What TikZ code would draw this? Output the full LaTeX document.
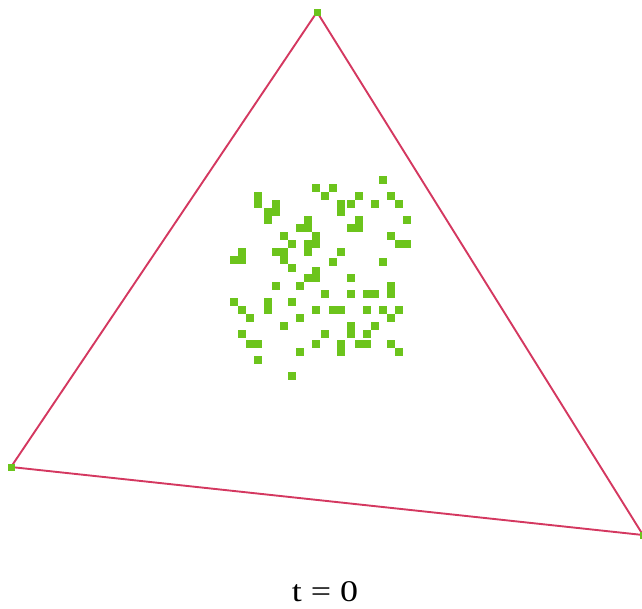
\documentclass[tikz,border=0pt]{standalone}
\usepackage{fontspec}
\setmainfont{Liberation Serif}
\definecolor{edgered}{RGB}{212,56,96}
\definecolor{dotgreen}{RGB}{108,196,28}
\begin{document}
\begin{tikzpicture}[x=1pt,y=-1pt,
  edge/.style={draw=edgered,line width=1.9pt},
  vtx/.style={rectangle,fill=dotgreen,inner sep=0pt,minimum size=7pt},
  dot/.style={fill=dotgreen}]
\useasboundingbox (0,0) rectangle (642,608);
\coordinate (A) at (317,12);
\coordinate (B) at (11,467);
\coordinate (C) at (643,535);
\draw[edge] (A) -- (B) -- (C) -- cycle;
\node[vtx] (vA) at (A) {};
\node[vtx] (vB) at (B) {};
\node[vtx] (vC) at (C) {};
% particles
\foreach \x/\y/\w/\h in {
 312.3/184.3/8/8, 320.5/192.3/8/8, 254.3/192.3/8/16, 272.3/200.3/8/16,
 264.3/207.7/8/16, 304.3/216.3/8/8, 296.3/224.3/16/8, 280.3/232.3/8/8,
 288.3/240.3/8/8, 272.3/248.3/16/8, 280.3/256.3/8/8, 288.3/264.3/8/8,
 312.3/232.3/8/16, 304.3/240.3/8/16, 238.3/248.3/8/8, 230.3/256.3/16/8,
 312.3/266.5/8/8, 304.3/274.3/16/8,
 378.7/176.3/8/8, 328.7/184.3/8/8, 354.7/192.3/8/8, 386.7/192.3/8/8,
 336.7/200.3/8/16, 346.7/200.3/8/8, 370.7/200.3/8/8, 394.7/200.3/8/8,
 354.7/216.3/8/16, 346.7/224.3/8/8, 402.7/216.3/8/8, 386.7/232.3/8/8,
 394.7/240.3/16/8, 336.7/248.3/8/8, 328.7/258/8/8, 378.7/258/8/8,
 346.7/274.3/8/8,
 272.3/282.3/8/8, 296.3/282.3/8/8, 320.5/290.3/8/8, 230.3/298.3/8/8,
 264.3/298.3/8/16, 288.3/298.3/8/8, 238.3/306.3/8/8, 312.3/306.3/8/8,
 246.3/314.3/8/8, 296.3/314.3/8/8, 280.3/322.3/8/8, 320.5/330.3/8/8,
 238.3/330.3/8/8, 246.3/340.3/16/8, 312.3/340.3/8/8, 296.3/348.3/8/8,
 254.3/356.3/8/8, 288.3/372.3/8/8,
 346.7/290.3/8/8, 362.7/290.3/16/8, 386.7/282.3/8/16, 328.7/306.3/16/8,
 362.7/306.3/8/8, 378.7/306.3/8/8, 394.7/306.3/8/8, 386.7/314.3/8/8,
 370.7/322.3/8/8, 346.7/322.3/8/16, 362.7/330.3/8/8, 336.7/340.3/8/16,
 354.7/340.3/16/8, 386.7/340.3/8/8, 394.7/348.3/8/8}
 \fill[dot] (\x,\y) rectangle ++(\w,\h);
\node[anchor=base,inner sep=0pt] (label) at (325,601) {\scalebox{1.2}[1]{\fontsize{30}{36}\selectfont t = 0}};
\end{tikzpicture}
\end{document}
